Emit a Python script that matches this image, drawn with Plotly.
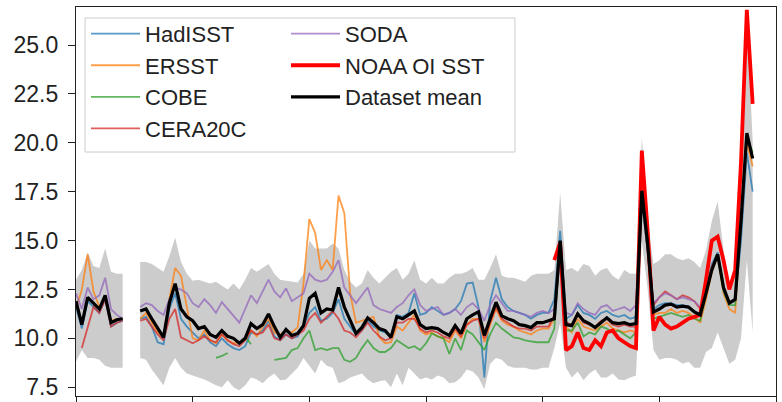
import plotly.graph_objects as go

# ---------------- data ----------------
YEAR_START = 1900

MEAN = [11.9, 10.7, 12.1, 11.8, 11.5, 12.2, 10.8, 10.95, 11.0,
        None, None,
        11.4, 11.5, 11.0, 10.5, 10.05, 11.8, 12.8, 11.5, 11.1, 10.9,
        10.5, 10.6, 10.2, 10.05, 10.4, 10.1, 10.0, 9.75, 10.0, 10.75,
        10.5, 10.7, 11.25, 10.6, 10.05, 10.45, 10.15, 10.25, 10.65, 12.05,
        12.3, 11.3, 11.5, 11.45, 12.6, 11.6, 10.9, 10.25, 10.55, 11.05,
        10.8, 10.5, 10.4, 10.05, 11.1, 11.0, 11.2, 11.4, 10.7, 10.5,
        10.55, 10.5, 10.3, 10.15, 10.65, 10.25, 11.0, 11.2, 11.35, 10.15,
        11.0, 11.85, 11.15, 11.0, 10.9, 10.7, 10.65, 10.55, 10.8, 10.8,
        10.9, 11.0, 15.0, 10.7, 10.65, 11.25, 10.9, 10.75, 10.55, 10.8,
        11.05, 10.8, 10.75, 10.8, 10.7, 10.75, 17.55, 14.8, 11.35, 11.5,
        11.7, 11.75, 11.6, 11.65, 11.6, 11.35, 11.2, 12.3, 13.5, 14.3,
        12.6, 11.8, 12.0, 16.0, 20.5, 19.2]

BAND_UPPER = [13.0, 13.5, 14.4, 13.7, 13.6, 14.6, 13.4, 13.3, 13.3,
              None, None,
              13.9, 13.9, 13.8, 13.6, 13.4, 14.2, 15.15, 13.9, 13.3, 12.95,
              13.0, 12.9, 12.8, 12.9, 12.7, 12.5, 12.8, 12.5, 13.0, 13.6,
              13.4, 13.6, 13.8, 13.3, 13.0, 12.95, 12.9, 12.85, 13.3, 15.0,
              14.6, 14.6, 14.6, 14.85, 14.6, 13.5, 12.9, 12.6, 12.8, 13.5,
              13.1, 12.8, 13.1, 13.4, 13.6, 13.0, 13.3, 14.0, 13.0, 12.8,
              13.1, 12.8, 12.8, 13.1, 13.3, 13.3, 13.4, 13.6, 13.0, 13.0,
              13.6, 14.3, 13.2, 13.1, 13.1, 13.0, 12.9, 13.2, 13.3, 13.3,
              13.3, 13.5, 17.45, 13.5, 13.6, 13.4, 13.8, 13.7, 13.2, 13.5,
              13.6, 13.2, 13.0, 13.5, 13.3, 13.3, 20.3, 16.0, 13.8, 14.0,
              14.3, 14.3, 14.1, 14.0, 14.1, 13.9, 13.6, 14.5, 16.0, 17.0,
              14.5, 12.7, 13.5, 18.0, 26.5, 20.1]

BAND_LOWER = [8.8, 9.4, 9.0, 9.0, 8.9, 8.6, 8.5, 8.5, 8.5,
              None, None,
              9.0, 8.9, 8.4, 8.0, 7.6, 8.5, 9.0, 8.5, 8.2, 8.1,
              8.0, 7.9, 7.75, 7.6, 7.5, 7.85, 7.5, 7.35, 7.6, 8.0,
              7.9, 7.7, 8.0, 8.2, 7.85, 7.9, 8.2, 8.5, 9.0, 8.6,
              8.2, 8.9, 8.6, 8.5, 7.7, 7.8, 8.0, 8.1, 8.2, 7.9,
              7.7, 7.8, 7.85, 7.5, 8.2, 7.6, 8.5, 8.2, 7.9, 8.0,
              7.9, 8.1, 8.0, 7.7, 7.75, 8.0, 8.4, 8.3, 8.0, 7.4,
              8.7, 9.0, 8.9, 8.6, 8.5, 8.5, 8.5, 8.4, 8.4, 8.5,
              8.5, 9.5, 10.8, 8.5, 8.0, 8.3, 7.85, 8.2, 8.4, 8.0,
              8.0, 8.2, 7.9, 7.85, 8.0, 8.1, 15.0, 12.5, 9.4, 8.9,
              9.0, 9.0, 8.9, 8.7, 8.8, 8.5, 8.5, 9.3, 9.5, 10.3,
              9.5, 8.7, 8.9, 10.0, 14.0, 10.3]

HADISST_START = 1900
HADISST = [11.6, 10.5, 11.9, 11.6, 11.3, 12.0, 10.6, 10.8, 10.9,
           None, None,
           11.0, 11.1, 10.6, 9.8, 9.7, 11.5, 12.3, 11.0, 10.6, 10.3,
           10.0, 10.2, 9.8, 9.6, 10.0, 9.7, 9.5, 9.4, 9.6, 10.3,
           10.2, 10.4, 10.9, 10.1, 9.9, 10.2, 10.0, 10.1, 10.6, 11.3,
           11.6, 10.9, 11.0, 11.3, 12.0, 11.0, 10.6, 10.2, 10.4, 10.9,
           10.6, 10.4, 10.3, 10.1, 11.2, 11.1, 11.3, 12.3, 11.2, 11.3,
           11.6, 11.4, 11.2, 11.3, 11.5, 11.9, 12.8, 12.85, 11.6, 8.0,
           11.9, 13.1, 12.0, 11.6, 11.4, 11.3, 11.2, 11.0, 11.2, 11.3,
           11.3, 12.0, 15.5, 11.0, 11.2, 11.7, 11.3, 11.2, 11.0, 11.3,
           11.4, 11.2, 11.1, 11.2, 11.0, 11.1, 17.2, 14.5, 11.5, 11.7,
           11.8, 11.8, 11.7, 11.7, 11.6, 11.4, 11.2, 12.5, 13.8, 14.4,
           12.6, 11.8, 11.9, 15.0, 19.5, 17.5]

ERSST_START = 1900
ERSST = [11.5, 12.5, 14.3, 12.4, 11.6, 12.0, 10.9, 11.0, 11.0,
         None, None,
         11.0, 11.3, 10.8, 10.3, 10.05, 12.0, 13.6, 13.2, 11.6, 10.0,
         9.9, 10.4, 9.9, 9.75, 10.2, 9.9, 9.75, 9.8, 9.9, 10.4,
         10.1, 10.6, 11.0, 10.3, 10.2, 10.4, 10.3, 10.56, 12.8, 16.1,
         15.4, 13.5, 14.0, 13.5, 17.3, 16.4, 12.3, 10.8, 10.9, 11.0,
         11.1, 10.05, 9.75, 9.8, 10.6, 10.4, 10.8, 11.2, 10.4, 10.2,
         10.3, 10.1, 10.0, 9.8, 10.4, 10.0, 10.7, 11.0, 11.0, 9.8,
         10.7, 11.5, 10.9, 10.7, 10.6, 10.4, 10.3, 10.2, 10.4, 10.5,
         10.5, 11.0, 14.5, 10.6, 10.3, 11.0, 10.6, 10.5, 10.4, 10.6,
         10.8, 10.5, 10.4, 10.3, 10.4, 10.3, 17.3, 14.5, 11.2, 11.3,
         11.3, 11.5, 11.3, 11.4, 11.3, 11.1, 10.8, 12.0, 13.4, 14.2,
         12.3, 11.5, 11.3, 16.0, 20.0, 18.8]

COBE_START = 1924
COBE = [9.0, 9.1, 9.25, None, None, 10.1, 9.7, None, None, None,
        8.9, 8.95, 9.0, 9.4, 9.5, 10.0, 10.4,
        9.4, 9.5, 9.4, 9.5, 9.5, 8.9, 8.8, 9.0, 9.5, 9.9,
        9.5, 9.3, 9.3, 9.5, 9.9, 9.7, 9.5, 9.6, 9.4, 9.75,
        10.25, 10.1, 10.0, 9.2, 10.0, 9.4, 10.4, 10.2, 9.8, 9.4,
        10.2, 10.8, 10.5, 10.25, 10.05, 10.0, 9.9, 9.85, 9.8, 9.8,
        9.8, 10.5, 14.8, 10.4, 10.4, 10.8, 10.1, 10.3, 10.2, 10.6,
        10.5, 10.3, 10.4, 10.2, 10.0, 10.3, 17.3, 14.5, 11.0, 11.1,
        11.2, 11.3, 11.2, 11.1, 11.2, 11.0, 10.9, 12.2, 13.6, 14.3,
        12.4, 11.7, 11.7, 15.8, 20.3, 19.5]

CERA20C_START = 1901
CERA20C = [9.5, 10.6, 11.6, 11.3, 12.0, 10.6, 10.8, 10.9,
           None, None,
           10.9, 11.0, 10.6, 10.2, 9.9, 11.0, 11.5, 10.05, 9.9, 9.75,
           9.9, 10.1, 9.9, 9.8, 10.2, 9.9, 9.7, 9.6, 9.9, 10.4,
           10.2, 10.3, 10.7, 10.0, 9.9, 10.2, 10.0, 10.2, 10.4, 11.0,
           11.3, 10.8, 11.1, 11.4, 11.0, 10.4, 10.3, 10.05, 10.4, 10.8,
           10.4, 10.1, 9.9, 10.0, 10.8, 10.8, 11.0, 11.0, 10.5, 10.3,
           10.4, 10.3, 10.1, 10.0, 10.5, 10.1, 10.7, 10.9, 11.0, 10.0,
           10.8, 11.6, 11.0, 10.8, 10.6, 10.5, 10.5, 10.4, 10.6, 10.6,
           10.6, 11.2, 14.6, 10.8, 10.7, 11.3, 10.8, 10.7, 10.6, 10.9,
           11.0, 10.7, 10.6, 10.7, 10.6, 10.6, 17.5, 14.8, 11.7, 12.1,
           12.4, 12.2, 12.0, 12.2, 12.1, 11.9, 11.5, 12.4, 13.7, 14.2]

SODA_START = 1900
SODA = [12.3, 11.5, 12.6, 12.0, 12.2, 13.1, 11.5, 11.2, 11.0,
        None, None,
        11.6, 11.8, 11.7, 11.4, 11.2, 12.0, 12.6, 12.5, 12.3, 11.8,
        11.6, 12.0, 11.7, 11.3, 11.85, 11.5, 11.1, 10.8, 11.5, 12.2,
        11.8, 12.4, 13.0, 12.4, 12.1, 12.55, 11.9, 12.1, 12.3, 13.3,
        13.0, 12.9, 13.0, 13.4, 14.0, 12.6, 12.2, 11.8, 12.2, 12.6,
        11.7, 11.5, 11.4, 11.3, 11.6, 11.8, 12.2, 12.5, 11.7, 11.4,
        11.5, 11.6, 11.2, 11.3, 11.5, 11.2, 11.6, 11.8, 11.5, 10.9,
        11.7, 12.2, 11.8, 11.4, 11.4, 11.3, 11.2, 11.1, 11.3, 11.4,
        11.3, 11.5, 14.0, 11.3, 11.2, 11.8, 11.5, 11.3, 11.2, 11.6,
        11.7, 11.4, 11.5, 11.6, 11.4, 11.7, 17.0, 14.5, 11.8, 12.1,
        12.3, 12.2, 12.0, 12.1, 12.0, 11.9, 11.6]

NOAA_START = 1982
NOAA = [14.0, 14.9, 9.4, 9.6, 10.3, 9.5, 9.4, 9.9, 9.6,
        10.3, 10.4, 10.0, 9.8, 9.6, 9.5, 19.6, 15.5, 10.4, 11.1,
        10.7, 10.5, 10.6, 10.8, 11.0, 11.1, 11.2, 13.0, 15.0, 15.2,
        14.0, 12.5, 13.5, 19.0, 26.8, 22.0]

Y_TICKS = [7.5, 10.0, 12.5, 15.0, 17.5, 20.0, 22.5, 25.0]
X_TICKS = [1900, 1920, 1940, 1960, 1980, 2000, 2020]


def years_for(start, values):
    return list(range(start, start + len(values)))


# ---------------- band polygon (one closed shape per gap-free run) ----------------
band_years = years_for(YEAR_START, MEAN)
bx, by = [], []
run = []
for i, yr in enumerate(band_years + [None]):
    ok = yr is not None and BAND_UPPER[i] is not None and BAND_LOWER[i] is not None
    if ok:
        run.append(i)
    elif run:
        xs = [band_years[j] for j in run] + [band_years[j] for j in reversed(run)]
        ys = [BAND_UPPER[j] for j in run] + [BAND_LOWER[j] for j in reversed(run)]
        if bx:
            bx.append(None)
            by.append(None)
        bx += xs
        by += ys
        run = []

fig = go.Figure()
fig.add_trace(go.Scatter(x=bx, y=by, mode="lines", fill="toself",
                         fillcolor="rgb(204,204,204)", line=dict(width=0),
                         showlegend=False, hoverinfo="skip"))

thin = [
    ("HadISST", HADISST_START, HADISST, "#1f77b4", "legend"),
    ("ERSST", ERSST_START, ERSST, "#ff7f0e", "legend"),
    ("COBE", COBE_START, COBE, "#2ca02c", "legend"),
    ("CERA20C", CERA20C_START, CERA20C, "#d62728", "legend"),
    ("SODA", SODA_START, SODA, "#9467bd", "legend2"),
]
for name, start, vals, col, lg in thin:
    fig.add_trace(go.Scatter(x=years_for(start, vals), y=vals, mode="lines", name=name,
                             line=dict(color=col, width=1.8), opacity=0.75, legend=lg))

fig.add_trace(go.Scatter(x=years_for(NOAA_START, NOAA), y=NOAA, mode="lines",
                         name="NOAA OI SST", line=dict(color="#ff0000", width=3.8),
                         legend="legend2"))
fig.add_trace(go.Scatter(x=years_for(YEAR_START, MEAN), y=MEAN, mode="lines",
                         name="Dataset mean", line=dict(color="black", width=3.2),
                         legend="legend2"))

# legend frame (spans both legend columns)
fig.add_shape(type="rect", xref="paper", yref="paper",
              x0=0.0129, x1=0.6271, y0=0.6272, y1=0.9717,
              line=dict(color="#cccccc", width=1), fillcolor="rgba(255,255,255,0.8)",
              layer="above")

legend_common = dict(bgcolor="rgba(0,0,0,0)", borderwidth=0,
                     font=dict(family="Liberation Sans, Arial, sans-serif", size=22, color="#222"),
                     itemwidth=49, xanchor="left", yanchor="top", orientation="v",
                     tracegroupgap=0, xref="paper", yref="paper")

fig.update_layout(
    template="none",
    width=782, height=402,
    margin=dict(l=76, r=6, t=7, b=6, autoexpand=False),
    paper_bgcolor="white", plot_bgcolor="white",
    font=dict(family="Liberation Sans, Arial, sans-serif", size=22, color="#222"),
    legend=dict(x=0.0143, y=0.985, **legend_common),
    legend2=dict(x=0.3000, y=0.985, **legend_common),
    xaxis=dict(range=[1900, 2020], tickvals=X_TICKS, showticklabels=False,
               ticks="outside", ticklen=6, tickwidth=1.2, tickcolor="#222",
               showline=True, mirror=True, linecolor="#222", linewidth=1.3,
               showgrid=False, zeroline=False, automargin=False),
    yaxis=dict(range=[7.05, 26.95], tickvals=Y_TICKS, tickformat=".1f",
               ticks="outside", ticklen=7, tickwidth=1.2, tickcolor="#222",
               ticklabelstandoff=5,
               tickfont=dict(size=23, color="#222"),
               showline=True, mirror=True, linecolor="#222", linewidth=1.3,
               showgrid=False, zeroline=False, automargin=False),
    showlegend=True,
)

fig.write_html("out.html",
               config={"displayModeBar": False},
               post_script="document.body.style.margin='0';document.body.style.overflow='hidden';")
